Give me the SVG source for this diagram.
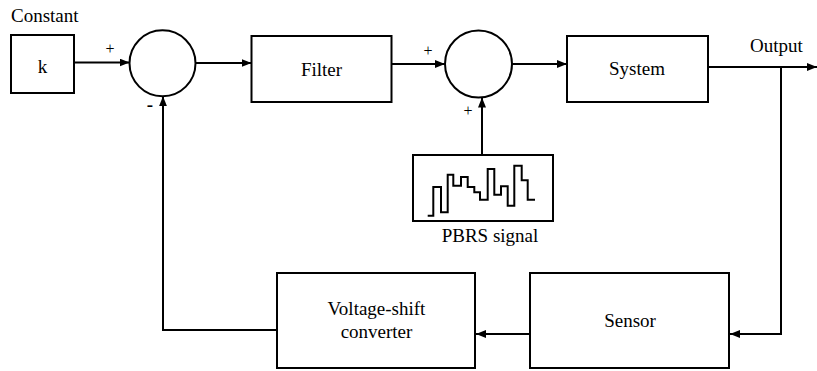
<svg xmlns="http://www.w3.org/2000/svg" width="817" height="371" viewBox="0 0 817 371">
<defs>
<marker id="ah" viewBox="0 0 10 8" refX="10" refY="4" markerWidth="10" markerHeight="8" markerUnits="userSpaceOnUse" orient="auto">
<path d="M0,0 L10,4 L0,8 Z" fill="#000"/>
</marker>
</defs>
<style>
.box{fill:#fff;stroke:#000;stroke-width:2}
.ln{fill:none;stroke:#000;stroke-width:2}
.t{font-family:"Liberation Serif","Times New Roman",serif;font-size:19px;fill:#000}
.s{font-family:"Liberation Serif","Times New Roman",serif;font-size:16px;fill:#000}
.m{text-anchor:middle}
</style>
<rect width="817" height="371" fill="#fff"/>
<text class="t" x="11" y="22">Constant</text>
<g id="k"><rect class="box" x="11" y="35" width="63" height="58"/><text class="t m" x="42.5" y="72.5">k</text></g>
<g id="sum1"><circle class="box" cx="162.5" cy="63.3" r="33"/></g>
<g id="filter"><rect class="box" x="251.5" y="36" width="140" height="66"/><text class="t m" x="321.5" y="76">Filter</text></g>
<g id="sum2"><circle class="box" cx="478.5" cy="64" r="33.5"/></g>
<g id="system"><rect class="box" x="567" y="36" width="141" height="66"/><text class="t m" x="637" y="75">System</text></g>
<g id="pbrs"><rect class="box" x="413" y="155" width="140" height="66"/>
<path class="ln" d="M427.7,215.7 H433.3 V187 H441 V212.3 H447.7 V174.7 H453.3 V185.7 H461 V177 H467.7 V187 H474.3 V192.3 H480 V199.7 H487.7 V169 H494.3 V194.7 H501 V186.3 H507.7 V205.7 H514.3 V165.7 H521.7 V180.3 H527.7 V199.7 H535"/>
<text class="t m" x="490" y="242">PBRS signal</text></g>
<g id="sensor"><rect class="box" x="530" y="273" width="199" height="95"/><text class="t m" x="630" y="327">Sensor</text></g>
<g id="vsc"><rect class="box" x="277" y="273" width="198" height="95"/><text class="t m" x="376.5" y="315">Voltage-shift</text><text class="t m" x="376.5" y="338">converter</text></g>
<g id="connectors">
<line class="ln" x1="74" y1="62.5" x2="129.5" y2="62.5" marker-end="url(#ah)"/>
<line class="ln" x1="195.5" y1="63" x2="251.5" y2="63" marker-end="url(#ah)"/>
<line class="ln" x1="391.5" y1="64" x2="445" y2="64" marker-end="url(#ah)"/>
<line class="ln" x1="512" y1="64" x2="567" y2="64" marker-end="url(#ah)"/>
<line class="ln" x1="708" y1="67" x2="817" y2="67" marker-end="url(#ah)"/>
<polyline class="ln" points="781,67 781,334 730,334" marker-end="url(#ah)"/>
<line class="ln" x1="530" y1="334" x2="476" y2="334" marker-end="url(#ah)"/>
<polyline class="ln" points="277,330 163,330 163,96.3" marker-end="url(#ah)"/>
<line class="ln" x1="482" y1="155" x2="482" y2="97.5" marker-end="url(#ah)"/>
<text class="s m" x="110" y="54">+</text>
<text class="s m" x="428" y="56">+</text>
<text class="s m" x="468" y="116">+</text>
<text class="t m" x="150" y="111" font-weight="bold">-</text>
</g>
<text class="t" x="750" y="52">Output</text>
</svg>
